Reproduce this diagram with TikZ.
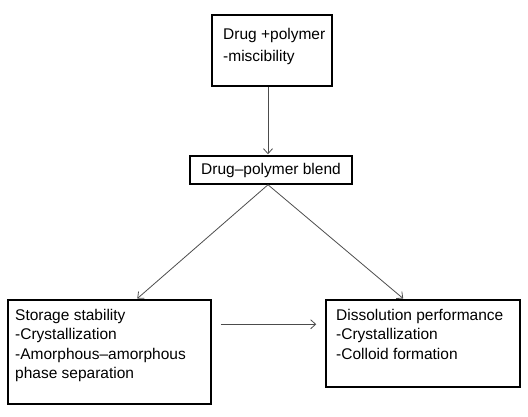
\documentclass[tikz,border=0pt]{standalone}
\usepackage{fontspec}
\setmainfont{Liberation Sans}
\usetikzlibrary{arrows.meta}

\begin{document}
\begin{tikzpicture}[x=1pt,y=-1pt,
        box/.style={draw,line width=1.5pt,inner sep=0pt},
        txt/.style={align=left,inner sep=0pt,anchor=north west,font=\fontsize{15.5}{19.5}\selectfont},
        arr/.style={draw=black!70,line width=0.8pt,-{Straight Barb[length=5pt,width=9pt]},shorten >=1pt}]
        \useasboundingbox (0,0) rectangle (528,416);
        \node[box,minimum width=120,minimum height=71] at (272,50.5) (mix) {};
        \node[txt,font=\fontsize{15.5}{22}\selectfont] at (223,28) (mixtxt) {Drug +polymer\\-miscibility};
        \node[box,minimum width=162,minimum height=28,font=\fontsize{15.5}{19.5}\selectfont] at (271,170) (blend) {Drug--polymer blend};
        \node[box,minimum width=203,minimum height=104] at (109.5,352) (storage) {};
        \node[txt] at (15,309) (storagetxt) {Storage stability\\-Crystallization\\-Amorphous--amorphous\\phase separation};
        \node[box,minimum width=194,minimum height=87] at (423,343.5) (diss) {};
        \node[txt] at (336,309) (disstxt) {Dissolution performance\\-Crystallization\\-Colloid formation};
        \draw[arr] ([xshift=-4]mix.south) -- ([xshift=-3]blend.north);
        \draw[arr] ([xshift=-3]blend.south) -- ([xshift=27]storage.north);
        \draw[arr] ([xshift=-3]blend.south) -- ([xshift=-19]diss.north);
        \draw[arr] ([shift={(9,25)}]storage.north east) -- ([shift={(-8,25)}]diss.north west);
    \end{tikzpicture}
\end{document}
